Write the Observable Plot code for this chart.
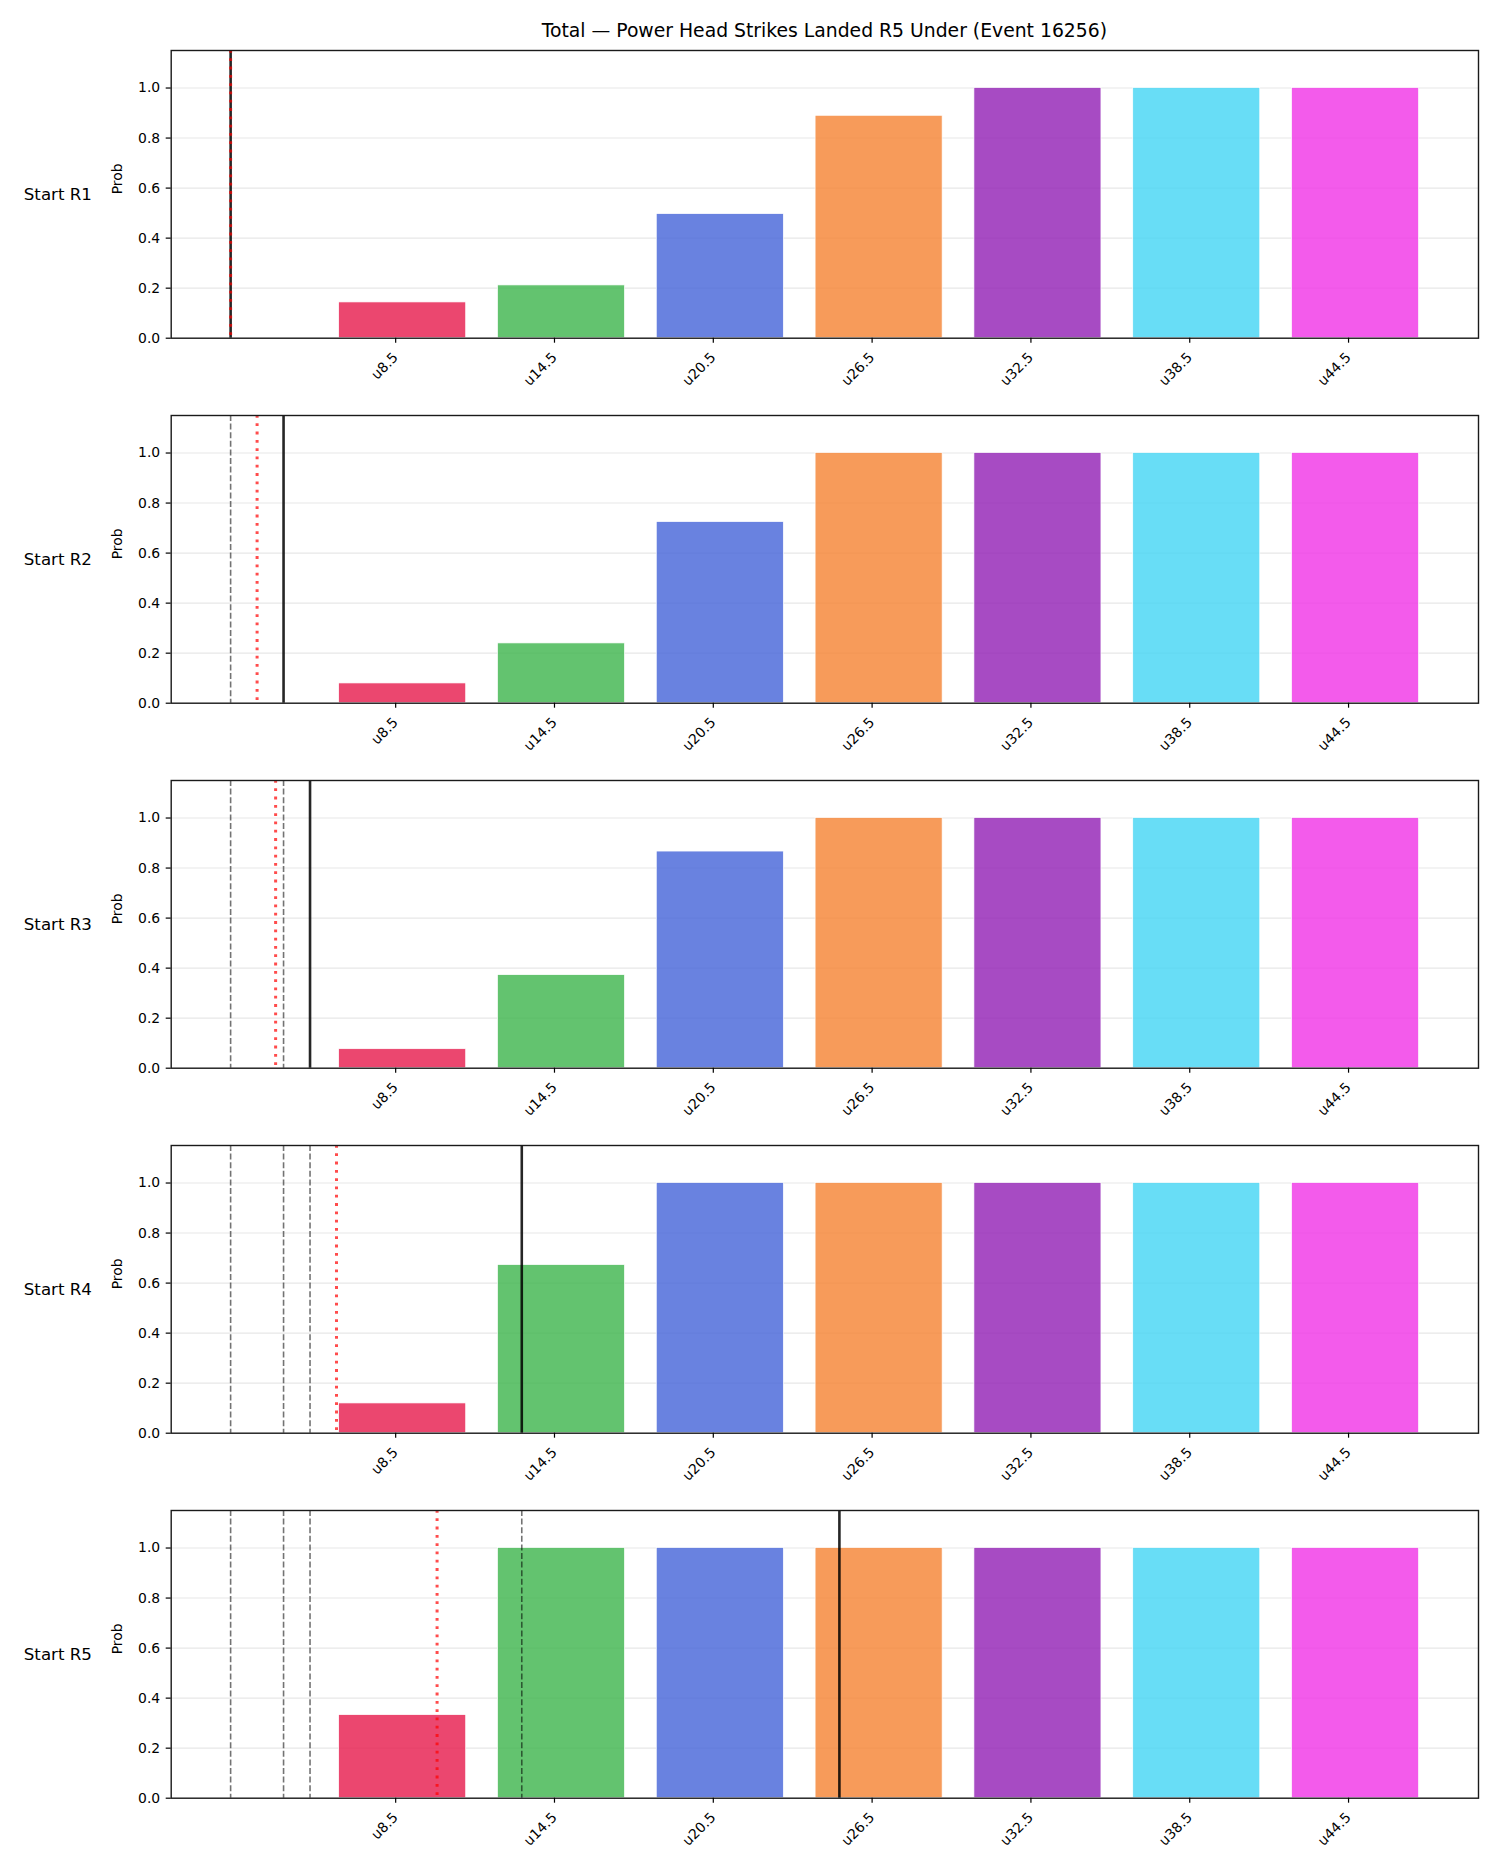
<!DOCTYPE html>
<html>
<head>
<meta charset="utf-8">
<script src="https://cdn.jsdelivr.net/npm/d3@7"></script>
<script src="https://cdn.jsdelivr.net/npm/@observablehq/plot@0.6"></script>
<style>
  html, body { margin: 0; padding: 0; background: white; }
  #root { position: relative; width: 1500px; height: 1875px; font-family: "DejaVu Sans", sans-serif; }
  #title { position: absolute; z-index: 2; left: 170.7px; width: 1307.3px; top: 21.5px; text-align: center; font-size: 18.8px; line-height: 1; color: black; }
  #panels { position: absolute; z-index: 1; left: 0; top: 30px; }
  #panels svg { display: block; }
</style>
</head>
<body>
<div id="root">
  <div id="title"></div>
  <div id="panels"></div>
</div>
<script>
const title = "Total — Power Head Strikes Landed R5 Under (Event 16256)";
const thresholds = [8.5, 14.5, 20.5, 26.5, 32.5, 38.5, 44.5];
const tickLabels = ["u8.5", "u14.5", "u20.5", "u26.5", "u32.5", "u38.5", "u44.5"];
const barColors = ["#e6194b", "#3cb44b", "#4363d8", "#f58231", "#911eb4", "#42d4f4", "#f032e6"];
const roundLabels = ["Start R1", "Start R2", "Start R3", "Start R4", "Start R5"];
const probR1 = [0.143, 0.211, 0.496, 0.889, 1.0, 1.0, 1.0];
const probR2 = [0.079, 0.239, 0.724, 1.0, 1.0, 1.0, 1.0];
const probR3 = [0.076, 0.372, 0.866, 1.0, 1.0, 1.0, 1.0];
const probR4 = [0.119, 0.672, 1.0, 1.0, 1.0, 1.0, 1.0];
const probR5 = [0.332, 1.0, 1.0, 1.0, 1.0, 1.0, 1.0];
const startValues = [2, 4, 5, 13, 25];          // solid black line
const expectedValues = [2, 3, 3.7, 6, 9.8];     // red dotted line
const priorStarts = [[], [2], [2, 4], [2, 4, 5], [2, 4, 5, 13]]; // grey dashed lines
const yTicks = [0, 0.2, 0.4, 0.6, 0.8, 1.0];

const barWidthFrac = 0.8;
const step = thresholds[1] - thresholds[0];
const halfW = barWidthFrac * step / 2;
const probs = [probR1, probR2, probR3, probR4, probR5];

const lo = d3.min([...startValues, ...expectedValues, ...priorStarts.flat(), thresholds[0] - halfW]);
const hi = thresholds[thresholds.length - 1] + halfW;
const pad = (hi - lo) * 0.05;
const xDomain = [lo - pad, hi + pad];

document.getElementById("title").textContent = title;
const container = document.getElementById("panels");

probs.forEach((p, r) => {
  const bars = thresholds.map((t, i) => ({t, label: tickLabels[i], p: p[i], color: barColors[i]}));
  const chart = Plot.plot({
    width: 1500,
    height: 365,
    marginTop: 20,
    marginBottom: 57.3,
    marginLeft: 170.7,
    marginRight: 22,
    style: {fontFamily: "DejaVu Sans", fontSize: "13.9px", color: "black", background: "transparent", overflow: "visible"},
    x: {domain: xDomain},
    y: {domain: [0, 1.15]},
    marks: [
      Plot.gridY(yTicks, {stroke: "#b0b0b0", strokeOpacity: 0.3, strokeWidth: 1.1}),
      Plot.rectY(bars, {x1: d => d.t - halfW, x2: d => d.t + halfW, y: "p", fill: d => d.color, fillOpacity: 0.8, stroke: "white", strokeWidth: 0.7}),
      Plot.ruleX(priorStarts[r], {stroke: "black", strokeOpacity: 0.55, strokeWidth: 1.6, strokeDasharray: "6,2.6"}),
      Plot.ruleX([startValues[r]], {stroke: "black", strokeOpacity: 0.85, strokeWidth: 2.6}),
      Plot.ruleX([expectedValues[r]], {stroke: "red", strokeOpacity: 0.7, strokeWidth: 3, strokeDasharray: "2.8,5.5"}),
      Plot.frame({stroke: "#1a1a1a", strokeWidth: 1.4}),
      Plot.axisX(thresholds, {tickFormat: (d) => tickLabels[thresholds.indexOf(d)], tickRotate: -45, tickSize: 5, tickPadding: 12, dx: -7, label: null, fontSize: 13.9, strokeWidth: 1.2}),
      Plot.axisY(yTicks, {tickFormat: d3.format(".1f"), tickSize: 5, tickPadding: 6, label: null, fontSize: 13.9, strokeWidth: 1.2}),
      Plot.text(["Prob"], {frameAnchor: "left", dx: -54, rotate: -90, fontSize: 13.9, fill: "black"}),
      Plot.text([roundLabels[r]], {frameAnchor: "left", dx: -147.4, textAnchor: "start", fontSize: 16.67, fill: "black"})
    ]
  });
  container.appendChild(chart);
});
</script>
</body>
</html>
